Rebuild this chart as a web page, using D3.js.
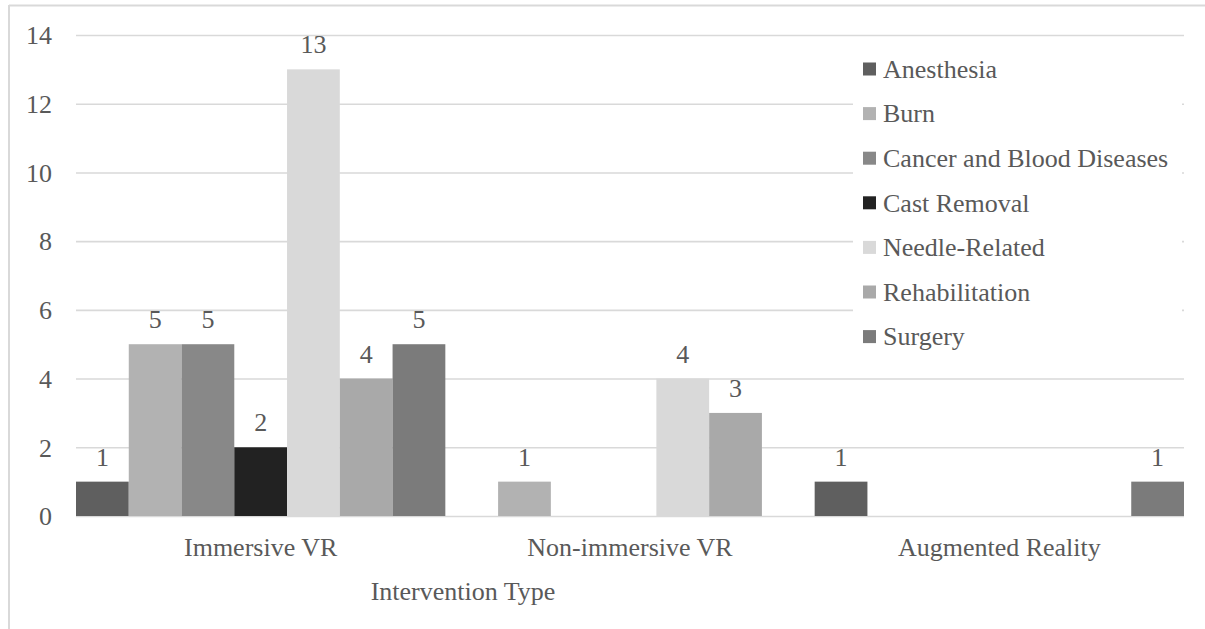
<!DOCTYPE html>
<html>
<head>
<meta charset="utf-8">
<script src="https://cdn.jsdelivr.net/npm/d3@7"></script>
<style>
  html, body { margin: 0; padding: 0; background: #ffffff; }
  svg { display: block; }
</style>
</head>
<body>
<svg id="chart" width="1205" height="629"></svg>
<script>
// Intervention types on the x axis
const categories = ["Immersive VR", "Non-immersive VR", "Augmented Reality"];

// Clinical context series (number of studies per intervention type)
const seriesNames = ["Anesthesia", "Burn", "Cancer and Blood Diseases", "Cast Removal", "Needle-Related", "Rehabilitation", "Surgery"];
const anesthesia = [1, 0, 1];
const burn = [5, 1, 0];
const cancerBlood = [5, 0, 0];
const castRemoval = [2, 0, 0];
const needleRelated = [13, 4, 0];
const rehabilitation = [4, 3, 0];
const surgery = [5, 0, 1];
const seriesColors = ["#5f5f5f", "#b2b2b2", "#888888", "#222222", "#d9d9d9", "#a9a9a9", "#7b7b7b"];

const yTicks = [0, 2, 4, 6, 8, 10, 12, 14];
const xTitle = "Intervention Type";

const seriesValues = [anesthesia, burn, cancerBlood, castRemoval, needleRelated, rehabilitation, surgery];

const FONT = "'Liberation Serif'";
const FONT_SIZE = "26px";
const TEXT_COLOR = "#595959";

const svg = d3.select("#chart");
const plot = { left: 76, right: 1184, top: 35, bottom: 516 };

function styleText(sel) {
  return sel.attr("font-family", null).style("font-family", FONT).style("font-size", FONT_SIZE).style("fill", TEXT_COLOR);
}

// Outer chart frame (top and left edges)
svg.append("line").attr("x1", 9).attr("x2", 1205).attr("y1", 5.5).attr("y2", 5.5)
  .attr("stroke", "#d9d9d9").attr("stroke-width", 2);
svg.append("line").attr("x1", 9).attr("x2", 9).attr("y1", 5).attr("y2", 629)
  .attr("stroke", "#d9d9d9").attr("stroke-width", 2);

const x0 = d3.scaleBand().domain(categories).range([plot.left, plot.right]).paddingInner(0).paddingOuter(0);
const x1 = d3.scaleBand().domain(seriesNames).range([0, x0.bandwidth()]).padding(0);
const y = d3.scaleLinear().domain([0, 14]).range([plot.bottom, plot.top]);

// Horizontal gridlines and value axis labels
const yAxis = d3.axisLeft(y).tickValues(yTicks).tickSize(-(plot.right - plot.left)).tickPadding(24).tickFormat(d3.format("d"));
const gy = svg.append("g").attr("transform", `translate(${plot.left},0)`).call(yAxis);
gy.attr("font-family", null).attr("font-size", null);
gy.select(".domain").remove();
gy.selectAll(".tick line").attr("stroke", "#d9d9d9").attr("stroke-width", 1.6);
styleText(gy.selectAll(".tick text")).attr("dy", "0.34em");

// Bars
const rows = [];
categories.forEach((c, ci) => {
  seriesNames.forEach((s, si) => {
    rows.push({ cat: c, series: s, value: seriesValues[si][ci], color: seriesColors[si] });
  });
});
const bars = rows.filter(d => d.value > 0);

svg.append("g").selectAll("rect").data(bars).join("rect")
  .attr("x", d => x0(d.cat) + x1(d.series))
  .attr("y", d => y(d.value))
  .attr("width", x1.bandwidth())
  .attr("height", d => y(0) - y(d.value))
  .attr("fill", d => d.color);

// Value labels above bars
styleText(svg.append("g").selectAll("text").data(bars).join("text")
  .attr("x", d => x0(d.cat) + x1(d.series) + x1.bandwidth() / 2)
  .attr("y", d => y(d.value) - 16)
  .attr("text-anchor", "middle")
  .text(d => d.value));

// Category axis labels
const xAxis = d3.axisBottom(x0).tickSize(0).tickPadding(22);
const gx = svg.append("g").attr("transform", `translate(0,${plot.bottom})`).call(xAxis);
gx.attr("font-family", null).attr("font-size", null);
gx.select(".domain").remove();
styleText(gx.selectAll(".tick text"));

// Axis title
styleText(svg.append("text").attr("x", 463).attr("y", 600).attr("text-anchor", "middle").text(xTitle));

// Legend on a white panel at the right of the plot
const legend = svg.append("g");
legend.append("rect").attr("x", 853).attr("y", 48).attr("width", 329).attr("height", 314).attr("fill", "#ffffff");
const items = legend.selectAll("g.item").data(seriesNames).join("g").attr("class", "item")
  .attr("transform", (d, i) => `translate(863,${69 + i * 44.6})`);
items.append("rect").attr("x", 0).attr("y", -6.5).attr("width", 13).attr("height", 13)
  .attr("fill", (d, i) => seriesColors[i]);
styleText(items.append("text").attr("x", 20).attr("y", 0).attr("dy", "0.34em").text(d => d));
</script>
</body>
</html>
